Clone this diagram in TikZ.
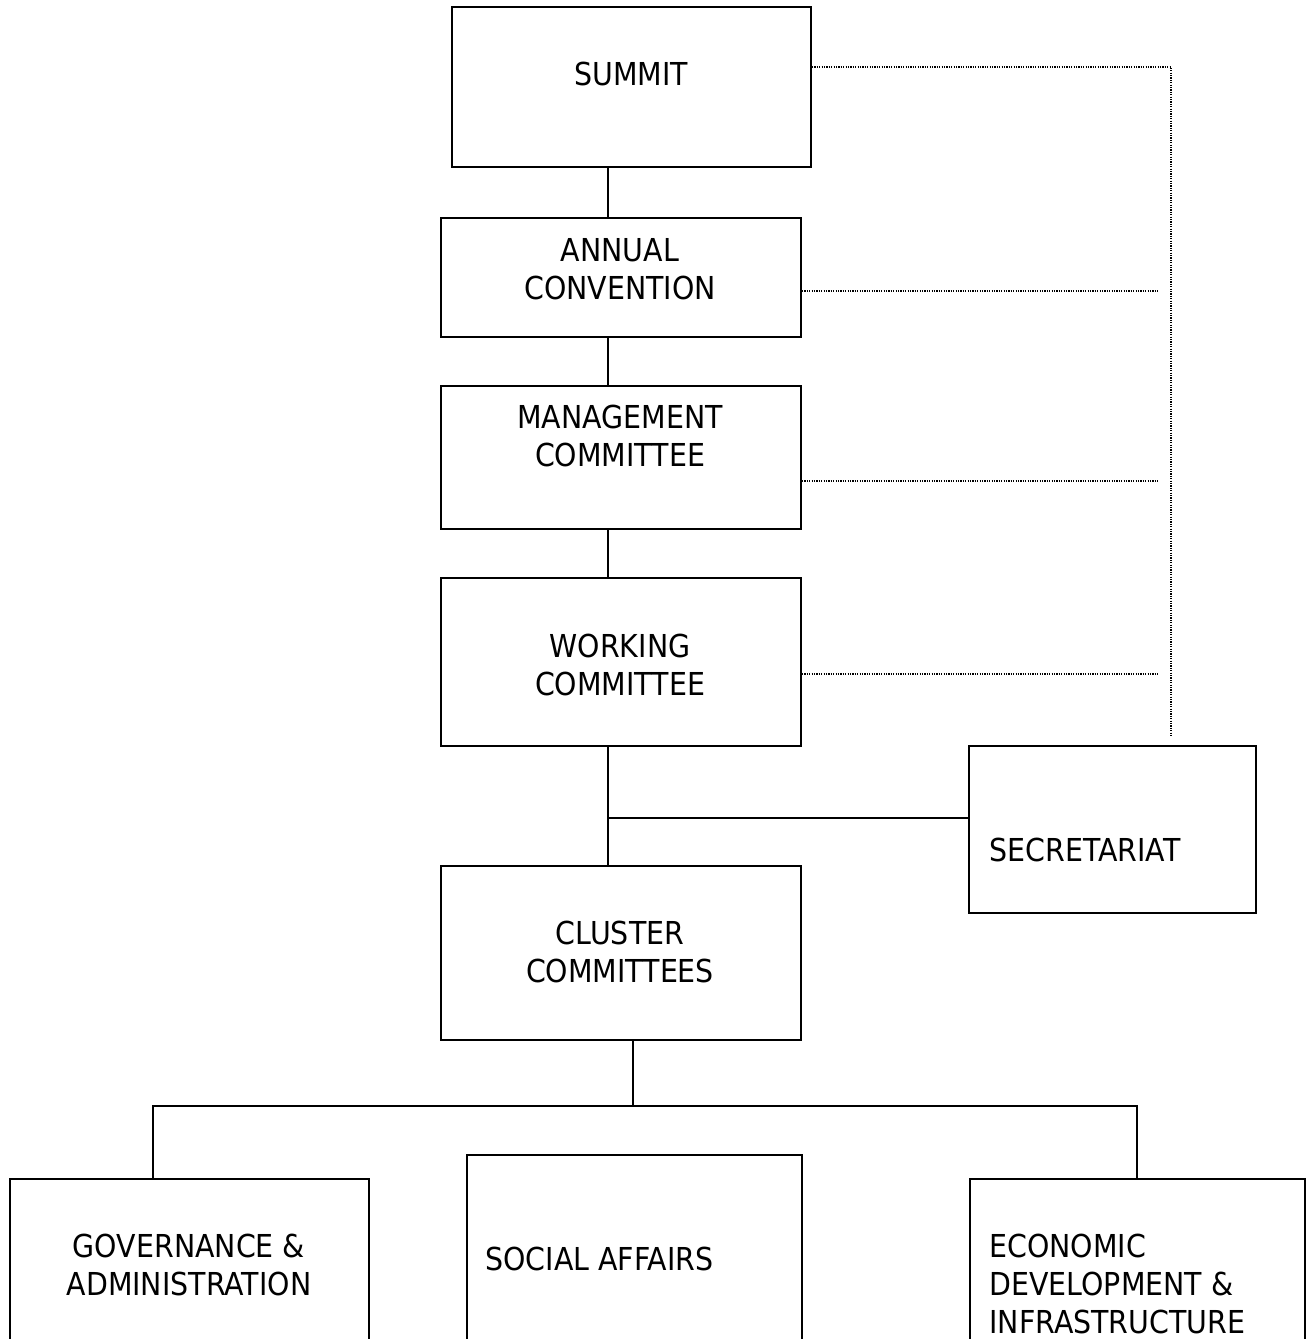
\documentclass[tikz,border=0pt]{standalone}
\usepackage{fontspec}
\setmainfont{DejaVu Sans}[FakeStretch=0.9]
\usetikzlibrary{calc}

\tikzset{
  box/.style={draw, line width=0.9pt, rectangle, inner sep=0pt},
  txt/.style={inner sep=0pt, align=center, font=\fontsize{15.8}{19}\selectfont},
  link/.style={line width=0.9pt},
  dots/.style={line width=0.7pt, dash pattern=on 0.6pt off 0.6pt}
}

\begin{document}
\begin{tikzpicture}[x=0.5pt, y=-0.5pt]
\useasboundingbox (0, 0) rectangle (1311, 1339);

% boxes
\node[box, minimum width=179.5pt, minimum height=80pt] (summit) at (631.5, 87) {};
\node[box, minimum width=180pt, minimum height=59.5pt] (annual) at (621, 277.5) {};
\node[box, minimum width=180pt, minimum height=71.5pt] (mgmt) at (621, 457.5) {};
\node[box, minimum width=180pt, minimum height=84pt] (working) at (621, 662) {};
\node[box, minimum width=143.5pt, minimum height=83.5pt] (secr) at (1112.5, 829.5) {};
\node[box, minimum width=180pt, minimum height=87pt] (cluster) at (621, 953) {};
\node[box, minimum width=179.5pt, minimum height=120pt, anchor=north west] (gov) at (9, 1178) {};
\node[box, minimum width=167.5pt, minimum height=120pt, anchor=north west] (social) at (466, 1154) {};
\node[box, minimum width=167.5pt, minimum height=120pt, anchor=north west] (econ) at (969, 1178) {};

% texts
\node[txt] (summit-t) at (631, 74) {SUMMIT};
\node[txt] (annual-t) at (620, 269) {ANNUAL\\CONVENTION};
\node[txt] (mgmt-t) at (620, 436) {MANAGEMENT\\COMMITTEE};
\node[txt] (working-t) at (620, 664.5) {WORKING\\COMMITTEE};
\node[txt, anchor=west] (secr-t) at (989, 850) {SECRETARIAT};
\node[txt] (cluster-t) at (620, 952) {CLUSTER\\COMMITTEES};
\node[txt] (gov-t) at (189, 1265) {GOVERNANCE \&\\ADMINISTRATION};
\node[txt, anchor=west] (social-t) at (485, 1259) {SOCIAL AFFAIRS};
\node[txt, anchor=west, align=left] (econ-t) at (989, 1284) {ECONOMIC\\DEVELOPMENT \&\\INFRASTRUCTURE};

% solid links
\draw[link] (summit.south -| 608, 0) -- (annual.north -| 608, 0);
\draw[link] (annual.south -| 608, 0) -- (mgmt.north -| 608, 0);
\draw[link] (mgmt.south -| 608, 0) -- (working.north -| 608, 0);
\draw[link] (working.south -| 608, 0) -- (cluster.north -| 608, 0);
\coordinate (tee) at (608, 818);
\draw[link] (tee) -- (secr.west |- tee);

\coordinate (fork) at (633, 1106);
\draw[link] (cluster.south -| fork) -- (fork);
\draw[link] (gov.north -| 153, 0) |- (fork) -| (econ.north -| 1137, 0);

% dotted links
\coordinate (rail) at (1171, 67);
\coordinate (railend) at (1171, 737);
\draw[dots] (summit.east |- rail) -- (rail) -- (railend);
\foreach \n/\y in {annual/291, mgmt/481, working/674} {
  \draw[dots] (\n.east |- 0, \y) -- (1159, \y);
}
\end{tikzpicture}
\end{document}
